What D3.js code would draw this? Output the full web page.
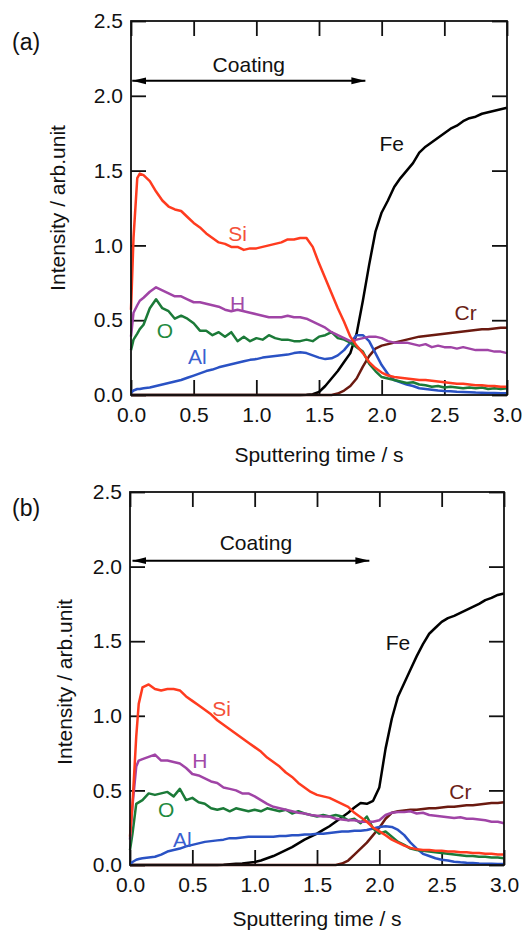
<!DOCTYPE html>
<html>
<head>
<meta charset="utf-8">
<script src="https://cdn.jsdelivr.net/npm/d3@7"></script>
<style>
  body { margin: 0; background: #fff; }
  text { font-family: "Liberation Sans", Arial, sans-serif; }
</style>
</head>
<body>
<div id="chart"></div>
<script>
// sputtering time (s), shared by every series of both panels
var times = [0, 0.02, 0.05, 0.07, 0.10,
  0.15, 0.20, 0.25, 0.30, 0.35, 0.40, 0.45, 0.50, 0.55, 0.60,
  0.65, 0.70, 0.75, 0.80, 0.85, 0.90, 0.95, 1.00, 1.05, 1.10,
  1.15, 1.20, 1.25, 1.30, 1.35, 1.40, 1.45, 1.50, 1.55, 1.60,
  1.65, 1.70, 1.75, 1.80, 1.85, 1.90, 1.95, 2.00, 2.05, 2.10,
  2.15, 2.20, 2.25, 2.30, 2.35, 2.40, 2.45, 2.50, 2.55, 2.60,
  2.65, 2.70, 2.75, 2.80, 2.85, 2.90, 2.95, 3.00];

// panel (a)
var siA = [0.57, 1.05, 1.45, 1.48, 1.47,
  1.43, 1.36, 1.30, 1.26, 1.24, 1.23, 1.19, 1.15, 1.12, 1.08,
  1.05, 1.02, 1.01, 0.99, 0.99, 0.97, 0.98, 0.98, 0.99, 1.00,
  1.01, 1.02, 1.04, 1.04, 1.05, 1.05, 0.99, 0.88, 0.78, 0.68,
  0.58, 0.49, 0.39, 0.33, 0.28, 0.22, 0.18, 0.15, 0.13, 0.12,
  0.115, 0.11, 0.105, 0.10, 0.10, 0.095, 0.09, 0.085, 0.08, 0.075,
  0.075, 0.07, 0.065, 0.065, 0.06, 0.06, 0.055, 0.055];
var hA = [0.39, 0.55, 0.60, 0.63, 0.65,
  0.69, 0.72, 0.70, 0.68, 0.66, 0.66, 0.64, 0.62, 0.62, 0.61,
  0.60, 0.59, 0.57, 0.56, 0.57, 0.56, 0.55, 0.54, 0.53, 0.52,
  0.52, 0.52, 0.53, 0.52, 0.52, 0.51, 0.49, 0.47, 0.45, 0.42,
  0.40, 0.38, 0.36, 0.37, 0.38, 0.39, 0.39, 0.38, 0.36, 0.35,
  0.35, 0.35, 0.34, 0.33, 0.34, 0.32, 0.33, 0.32, 0.32, 0.31,
  0.32, 0.31, 0.30, 0.30, 0.30, 0.29, 0.29, 0.28];
var oA = [0.30, 0.37, 0.41, 0.44, 0.47,
  0.58, 0.64, 0.58, 0.56, 0.51, 0.53, 0.51, 0.48, 0.43, 0.43,
  0.40, 0.42, 0.39, 0.42, 0.36, 0.39, 0.36, 0.38, 0.37, 0.40,
  0.38, 0.37, 0.37, 0.36, 0.36, 0.37, 0.36, 0.39, 0.40, 0.42,
  0.38, 0.37, 0.35, 0.32, 0.29, 0.21, 0.16, 0.12, 0.11, 0.10,
  0.09, 0.08, 0.085, 0.07, 0.065, 0.055, 0.06, 0.05, 0.055, 0.05,
  0.045, 0.05, 0.045, 0.05, 0.04, 0.045, 0.04, 0.045];
var alA = [0.015, 0.03, 0.04, 0.04, 0.045,
  0.05, 0.06, 0.07, 0.08, 0.09, 0.10, 0.115, 0.13, 0.145, 0.16,
  0.17, 0.185, 0.195, 0.205, 0.215, 0.225, 0.235, 0.24, 0.25, 0.255,
  0.26, 0.265, 0.27, 0.28, 0.285, 0.28, 0.265, 0.25, 0.24, 0.245,
  0.265, 0.30, 0.35, 0.40, 0.40, 0.36, 0.28, 0.20, 0.14, 0.10,
  0.085, 0.07, 0.06, 0.045, 0.04, 0.035, 0.03, 0.027, 0.025, 0.022,
  0.02, 0.018, 0.016, 0.015, 0.014, 0.013, 0.012, 0.012];
var feA = [0, 0, 0, 0, 0,
  0, 0, 0, 0, 0, 0, 0, 0, 0, 0,
  0, 0, 0, 0, 0, 0, 0, 0, 0, 0,
  0, 0, 0, 0, 0, 0.002, 0.005, 0.02, 0.06, 0.11,
  0.16, 0.22, 0.28, 0.41, 0.63, 0.87, 1.09, 1.22, 1.30, 1.39,
  1.45, 1.50, 1.55, 1.62, 1.66, 1.69, 1.72, 1.75, 1.78, 1.80,
  1.83, 1.85, 1.86, 1.88, 1.89, 1.90, 1.91, 1.92];
var crA = [0, 0, 0, 0, 0,
  0, 0, 0, 0, 0, 0, 0, 0, 0, 0,
  0, 0, 0, 0, 0, 0, 0, 0, 0, 0,
  0, 0, 0, 0, 0, 0, 0, 0, 0, 0,
  0.01, 0.03, 0.06, 0.11, 0.19, 0.26, 0.31, 0.33, 0.34, 0.35,
  0.36, 0.37, 0.38, 0.39, 0.395, 0.40, 0.405, 0.41, 0.415, 0.42,
  0.425, 0.43, 0.435, 0.44, 0.44, 0.445, 0.45, 0.45];

// panel (b)
var siB = [0.19, 0.41, 0.86, 1.08, 1.19,
  1.21, 1.18, 1.17, 1.18, 1.18, 1.17, 1.13, 1.10, 1.07, 1.04,
  1.01, 0.97, 0.94, 0.91, 0.88, 0.85, 0.82, 0.79, 0.76, 0.72,
  0.69, 0.66, 0.62, 0.59, 0.55, 0.52, 0.49, 0.47, 0.46, 0.45,
  0.43, 0.41, 0.39, 0.35, 0.32, 0.29, 0.25, 0.225, 0.20, 0.17,
  0.15, 0.13, 0.115, 0.105, 0.10, 0.10, 0.095, 0.095, 0.09, 0.09,
  0.085, 0.085, 0.08, 0.08, 0.075, 0.075, 0.07, 0.07];
var hB = [0.17, 0.40, 0.66, 0.70, 0.71,
  0.725, 0.74, 0.70, 0.70, 0.69, 0.68, 0.65, 0.61, 0.60, 0.58,
  0.56, 0.55, 0.52, 0.51, 0.50, 0.48, 0.48, 0.46, 0.435, 0.41,
  0.39, 0.38, 0.37, 0.36, 0.35, 0.345, 0.335, 0.33, 0.325, 0.325,
  0.31, 0.305, 0.30, 0.30, 0.29, 0.29, 0.29, 0.30, 0.335, 0.35,
  0.355, 0.355, 0.36, 0.345, 0.35, 0.335, 0.33, 0.325, 0.32, 0.315,
  0.32, 0.31, 0.31, 0.305, 0.30, 0.29, 0.29, 0.28];
var oB = [0.10, 0.21, 0.41, 0.42, 0.435,
  0.48, 0.47, 0.48, 0.49, 0.46, 0.51, 0.435, 0.45, 0.42, 0.41,
  0.38, 0.37, 0.38, 0.36, 0.38, 0.37, 0.36, 0.37, 0.36, 0.38,
  0.37, 0.36, 0.37, 0.345, 0.36, 0.345, 0.335, 0.325, 0.335, 0.325,
  0.335, 0.325, 0.30, 0.31, 0.28, 0.325, 0.245, 0.21, 0.225, 0.19,
  0.155, 0.135, 0.11, 0.10, 0.095, 0.09, 0.085, 0.08, 0.075, 0.07,
  0.065, 0.06, 0.06, 0.055, 0.055, 0.05, 0.05, 0.045];
var alB = [0.005, 0.02, 0.035, 0.04, 0.045,
  0.05, 0.055, 0.07, 0.09, 0.10, 0.11, 0.125, 0.135, 0.145, 0.155,
  0.16, 0.165, 0.17, 0.18, 0.18, 0.185, 0.19, 0.19, 0.19, 0.19,
  0.19, 0.195, 0.195, 0.20, 0.20, 0.205, 0.205, 0.21, 0.21, 0.215,
  0.22, 0.225, 0.225, 0.23, 0.23, 0.235, 0.245, 0.255, 0.26, 0.255,
  0.235, 0.20, 0.15, 0.11, 0.075, 0.06, 0.045, 0.035, 0.03, 0.022,
  0.018, 0.015, 0.013, 0.01, 0.009, 0.008, 0.007, 0.007];
var feB = [0, 0, 0, 0, 0,
  0, 0, 0, 0, 0, 0, 0, 0, 0, 0,
  0, 0, 0.002, 0.005, 0.008, 0.01, 0.015, 0.02, 0.03, 0.045,
  0.06, 0.08, 0.10, 0.12, 0.145, 0.17, 0.19, 0.21, 0.235, 0.26,
  0.29, 0.32, 0.35, 0.385, 0.415, 0.41, 0.43, 0.52, 0.78, 0.98,
  1.13, 1.22, 1.31, 1.40, 1.48, 1.55, 1.59, 1.63, 1.655, 1.67,
  1.69, 1.71, 1.73, 1.75, 1.775, 1.79, 1.81, 1.82];
var crB = [0, 0, 0, 0, 0,
  0, 0, 0, 0, 0, 0, 0, 0, 0, 0,
  0, 0, 0, 0, 0, 0, 0, 0, 0, 0,
  0, 0, 0, 0, 0, 0, 0, 0, 0, 0,
  0, 0.01, 0.03, 0.07, 0.11, 0.15, 0.20, 0.25, 0.31, 0.35,
  0.36, 0.365, 0.37, 0.37, 0.375, 0.38, 0.38, 0.385, 0.39, 0.39,
  0.395, 0.40, 0.40, 0.405, 0.41, 0.415, 0.415, 0.42];

var xTicks = [0, 0.5, 1.0, 1.5, 2.0, 2.5, 3.0];
var yTicks = [0, 0.5, 1.0, 1.5, 2.0, 2.5];

// element labels (data coords of label centre)
var labelsA = [
  {name: 'Fe', t: 2.08, v: 1.68}, {name: 'Si', t: 0.85, v: 1.08},
  {name: 'H', t: 0.85, v: 0.615}, {name: 'O', t: 0.27, v: 0.43},
  {name: 'Al', t: 0.53, v: 0.26}, {name: 'Cr', t: 2.67, v: 0.55}];
var labelsB = [
  {name: 'Fe', t: 2.15, v: 1.49}, {name: 'Si', t: 0.735, v: 1.05},
  {name: 'H', t: 0.56, v: 0.70}, {name: 'O', t: 0.29, v: 0.37},
  {name: 'Al', t: 0.42, v: 0.17}, {name: 'Cr', t: 2.65, v: 0.49}];

// coating arrow: [t start, t end, level] and text position
var coatingA = {t0: 0.01, t1: 1.87, v: 2.10, tt: 0.94, vt: 2.16};
var coatingB = {t0: 0.02, t1: 1.92, v: 2.04, tt: 1.01, vt: 2.11};

var colors = {Fe: '#000000', Cr: '#6b1a10', Al: '#2a52c4', O: '#1b7a38', H: '#a044a6', Si: '#ff3b1f'};
var labelColors = {Fe: '#111111', Cr: '#6b2216', Al: '#3a5fd0', O: '#1f8a40', H: '#a24aa8', Si: '#f4513a'};

var ProfileChart = {};

ProfileChart.create = function(dest, width, height) {
  var svg = d3.select(dest).append('svg')
    .attr('width', width)
    .attr('height', height);

  var defs = svg.append('defs');
  ['start', 'end'].forEach(function(k) {
    defs.append('marker')
      .attr('id', 'arrow-' + k)
      .attr('markerUnits', 'userSpaceOnUse')
      .attr('viewBox', '0 0 14 10')
      .attr('refX', k == 'end' ? 14 : 0)
      .attr('refY', 5)
      .attr('markerWidth', 14)
      .attr('markerHeight', 10)
      .attr('orient', 'auto')
      .append('path')
      .attr('d', k == 'end' ? 'M0,1.5L14,5L0,8.5Z' : 'M14,1.5L0,5L14,8.5Z')
      .attr('fill', '#000');
  });

  this.drawPanel(svg, {
    left: 131, right: 507, top: 21, bottom: 395, tag: '(a)', tagY: 50,
    yTitleX: 65, yTitleY: 208, xTitleY: 462,
    series: {Fe: feA, Cr: crA, Al: alA, O: oA, H: hA, Si: siA},
    labels: labelsA, coating: coatingA
  });
  // the window ends just under panel (b), so its x title sits a little higher
  this.drawPanel(svg, {
    left: 130, right: 504, top: 492, bottom: 865, tag: '(b)', tagY: 516,
    yTitleX: 72, yTitleY: 682, xTitleY: 926,
    series: {Fe: feB, Cr: crB, Al: alB, O: oB, H: hB, Si: siB},
    labels: labelsB, coating: coatingB
  });
};

ProfileChart.drawPanel = function(svg, p) {
  var x = d3.scaleLinear().domain([0, 3]).range([p.left, p.right]);
  var y = d3.scaleLinear().domain([0, 2.5]).range([p.bottom, p.top]);
  var fmt = d3.format('.1f');
  var g = svg.append('g');

  // ticks on all four sides, pointing inward
  var axes = [
    {ax: d3.axisBottom(x).tickValues(xTicks).tickFormat(fmt).tickPadding(12), pos: 'translate(0,' + p.bottom + ')'},
    {ax: d3.axisTop(x).tickValues(xTicks).tickFormat(''), pos: 'translate(0,' + p.top + ')'},
    {ax: d3.axisLeft(y).tickValues(yTicks).tickFormat(fmt).tickPadding(8), pos: 'translate(' + p.left + ',0)'},
    {ax: d3.axisRight(y).tickValues(yTicks).tickFormat(''), pos: 'translate(' + p.right + ',0)'}
  ];
  axes.forEach(function(a) {
    var ag = g.append('g').attr('transform', a.pos)
      .call(a.ax.tickSize(-15).tickSizeOuter(0));
    ag.select('.domain').remove();
    ag.selectAll('line').attr('stroke', '#111').attr('stroke-width', 1.8);
    ag.selectAll('text').attr('font-size', 21).attr('fill', '#111')
      .style('font-family', '"Liberation Sans", Arial, sans-serif');
  });

  var line = d3.line()
    .x(function(d, i) { return x(times[i]); })
    .y(function(d) { return y(d); });

  Object.keys(p.series).forEach(function(k) {
    g.append('path')
      .datum(p.series[k])
      .attr('d', line)
      .attr('fill', 'none')
      .attr('stroke', colors[k])
      .attr('stroke-width', 2.5)
      .attr('stroke-linejoin', 'round');
  });

  g.append('rect')
    .attr('x', p.left).attr('y', p.top)
    .attr('width', p.right - p.left).attr('height', p.bottom - p.top)
    .attr('fill', 'none').attr('stroke', '#111').attr('stroke-width', 1.8);

  g.selectAll('text.el')
    .data(p.labels)
    .enter()
    .append('text')
    .attr('class', 'el')
    .attr('x', function(d) { return x(d.t); })
    .attr('y', function(d) { return y(d.v); })
    .attr('dy', '0.36em')
    .attr('text-anchor', 'middle')
    .attr('font-size', 21)
    .attr('fill', function(d) { return labelColors[d.name]; })
    .text(function(d) { return d.name; });

  var c = p.coating;
  g.append('line')
    .attr('x1', x(c.t0)).attr('x2', x(c.t1))
    .attr('y1', y(c.v)).attr('y2', y(c.v))
    .attr('stroke', '#000').attr('stroke-width', 2)
    .attr('marker-start', 'url(#arrow-start)')
    .attr('marker-end', 'url(#arrow-end)');
  g.append('text')
    .attr('x', x(c.tt)).attr('y', y(c.vt))
    .attr('text-anchor', 'middle')
    .attr('font-size', 21)
    .attr('fill', '#111')
    .text('Coating');

  g.append('text')
    .attr('x', 12).attr('y', p.tagY)
    .attr('font-size', 23)
    .attr('fill', '#111')
    .text(p.tag);

  g.append('text')
    .attr('x', (p.left + p.right) / 2).attr('y', p.xTitleY)
    .attr('text-anchor', 'middle')
    .attr('font-size', 21)
    .attr('fill', '#111')
    .text('Sputtering time / s');

  g.append('text')
    .attr('transform', 'translate(' + p.yTitleX + ',' + p.yTitleY + ') rotate(-90)')
    .attr('text-anchor', 'middle')
    .attr('font-size', 21)
    .attr('fill', '#111')
    .text('Intensity / arb.unit');
};

ProfileChart.create('#chart', 522, 932);
</script>
</body>
</html>
